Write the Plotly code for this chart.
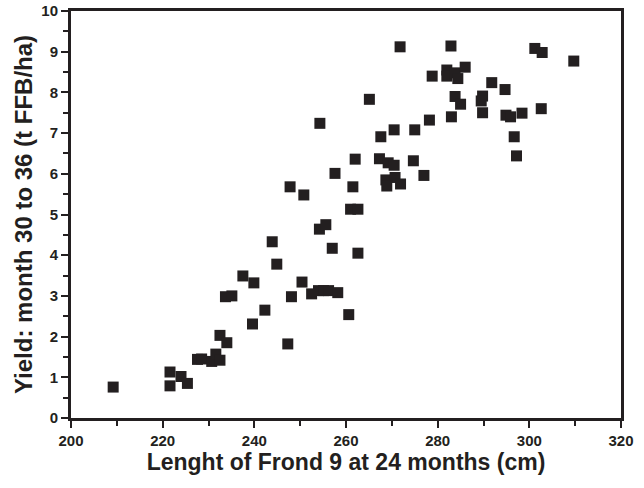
import plotly.graph_objects as go

# Frond 9 length at 24 months (cm)
frond_length = [
    209.2, 221.6, 221.6, 224.0, 225.4, 227.6, 228.5, 230.7, 231.6, 232.5,
    232.5, 234.0, 233.7, 235.1, 237.5, 239.9, 239.6, 242.3, 243.9, 244.9,
    247.3, 248.1, 250.4, 252.5, 254.0, 255.1, 256.2, 258.2, 260.6, 254.2,
    255.6, 257.0, 261.0, 262.6, 262.6, 254.3, 262.0, 257.6, 261.5, 247.8,
    250.8, 271.8, 282.9, 301.2, 302.8, 309.7, 278.8, 282.0, 282.0, 283.8,
    284.4, 286.0, 291.8, 294.7, 265.1, 283.8, 285.0, 289.8, 289.5, 289.8,
    294.9, 295.9, 298.4, 302.6, 283.0, 278.2, 275.0, 270.5, 267.6, 296.7,
    297.2, 267.3, 269.2, 270.5, 274.7, 277.0, 268.7, 270.7, 268.9, 271.9,
]

# Yield between month 30 and 36 (t FFB/ha)
yield_t = [
    0.76, 1.13, 0.79, 1.02, 0.85, 1.44, 1.45, 1.39, 1.57, 1.42,
    2.03, 1.85, 2.98, 3.00, 3.49, 3.32, 2.31, 2.65, 4.33, 3.78,
    1.82, 2.98, 3.34, 3.05, 3.13, 3.13, 3.13, 3.08, 2.54, 4.64,
    4.75, 4.17, 5.13, 5.13, 4.05, 7.24, 6.36, 6.01, 5.68, 5.68,
    5.48, 9.12, 9.14, 9.08, 8.98, 8.77, 8.40, 8.55, 8.40, 8.48,
    8.34, 8.62, 8.24, 8.07, 7.83, 7.90, 7.71, 7.91, 7.79, 7.50,
    7.44, 7.40, 7.49, 7.60, 7.40, 7.32, 7.08, 7.08, 6.91, 6.91,
    6.44, 6.37, 6.27, 6.21, 6.32, 5.96, 5.85, 5.91, 5.70, 5.75,
]

x_ticks = [200, 220, 240, 260, 280, 300, 320]
y_ticks = list(range(0, 11))

ink = "#231f20"
font_family = "Liberation Sans, Arial"

fig = go.Figure(
    go.Scatter(
        x=frond_length,
        y=yield_t,
        mode="markers",
        marker=dict(symbol="square", size=11, color=ink, line=dict(width=0)),
        showlegend=False,
    )
)

axis_common = dict(
    showline=True,
    linewidth=3,
    linecolor=ink,
    mirror=True,
    showgrid=False,
    zeroline=False,
    ticks="outside",
    ticklen=7,
    tickwidth=2,
    tickcolor=ink,
    tickfont=dict(family=font_family, size=15, color=ink, weight="bold"),
)

fig.update_xaxes(
    range=[200, 320],
    tickmode="array",
    tickvals=x_ticks,
    ticktext=[str(v) for v in x_ticks],
    minor=dict(dtick=10, ticks="outside", ticklen=5, tickwidth=2, tickcolor=ink),
    title=dict(
        text="<b>Lenght of Frond 9 at 24 months (cm)</b>",
        font=dict(family=font_family, size=23, color=ink),
        standoff=6,
    ),
    **axis_common,
)

fig.update_yaxes(
    range=[0, 10],
    tickmode="array",
    tickvals=y_ticks,
    ticktext=[str(v) for v in y_ticks],
    minor=dict(dtick=0.5, ticks="outside", ticklen=5, tickwidth=2, tickcolor=ink),
    title=dict(
        text="<b>Yield: month 30 to 36 (t FFB/ha)</b>",
        font=dict(family=font_family, size=24, color=ink),
        standoff=2,
    ),
    **axis_common,
)

fig.update_layout(
    width=644,
    height=488,
    margin=dict(l=71, r=23, t=11, b=70, autoexpand=False),
    paper_bgcolor="white",
    plot_bgcolor="white",
)

fig.write_html("out.html")
